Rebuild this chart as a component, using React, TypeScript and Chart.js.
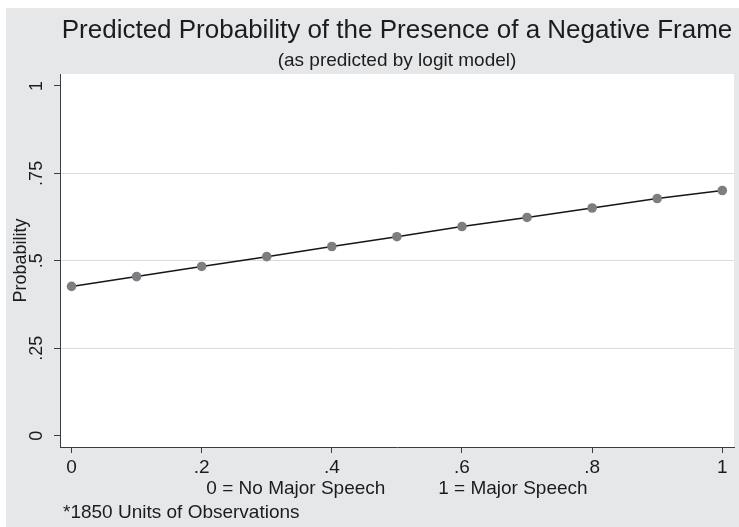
import React, { useEffect, useRef } from "react";
import { Chart, registerables } from "chart.js";

Chart.register(...registerables);

// ---- data ----
const speechValues = [0, 0.1, 0.2, 0.3, 0.4, 0.5, 0.6, 0.7, 0.8, 0.9, 1];
const predictedProbability = [0.427, 0.455, 0.484, 0.512, 0.541, 0.569, 0.598, 0.624, 0.651, 0.678, 0.701];
const xTickValues = [0, 0.2, 0.4, 0.6, 0.8, 1];
const xTickLabels = ["0", ".2", ".4", ".6", ".8", "1"];
const yTickValues = [0, 0.25, 0.5, 0.75, 1];
const yTickLabels = ["0", ".25", ".5", ".75", "1"];
const yGridValues = [0.25, 0.5, 0.75];
const titleText = "Predicted Probability of the Presence of a Negative Frame";
const subtitleText = "(as predicted by logit model)";
const yAxisTitle = "Probability";
const xAxisTitle = "0 = No Major Speech          1 = Major Speech";
const noteText = "*1850 Units of Observations";

const FONT = "'Liberation Sans', Arial, Helvetica, sans-serif";
const TEXT = "#1c1c1c";
const AXIS = "#3c3c3c";
const BG = "#e6e7e9";

const framePlugin = {
  id: "frame",
  beforeDraw(chart: any) {
    const { ctx, width, height, chartArea } = chart;
    ctx.save();
    ctx.fillStyle = "#ffffff";
    ctx.fillRect(0, 0, width, height);
    ctx.fillStyle = BG;
    ctx.fillRect(6, 8, width - 6, height - 8);
    ctx.fillStyle = "#ffffff";
    ctx.fillRect(chartArea.left, chartArea.top, chartArea.right - chartArea.left, chartArea.bottom - chartArea.top);
    ctx.restore();
  },
  afterDraw(chart: any) {
    const { ctx, chartArea } = chart;
    const cx = (chartArea.left + chartArea.right) / 2;
    ctx.save();
    ctx.fillStyle = TEXT;
    ctx.textAlign = "center";
    ctx.textBaseline = "middle";
    ctx.font = `26px ${FONT}`;
    ctx.fillText(titleText, cx, 31);
    ctx.font = `19px ${FONT}`;
    ctx.fillText(subtitleText, cx, 61);
    ctx.textAlign = "left";
    ctx.fillText(noteText, 63, 513);
    ctx.restore();
  },
};

export default function App() {
  const ref = useRef<HTMLCanvasElement>(null);
  useEffect(() => {
    if (!ref.current) return;
    const chart = new Chart(ref.current, {
      type: "line",
      data: {
        datasets: [
          {
            data: speechValues.map((x, i) => ({ x, y: predictedProbability[i] })),
            borderColor: "#161616",
            borderWidth: 1.5,
            pointRadius: 4.8,
            pointBackgroundColor: "#7d7e82",
            pointBorderWidth: 0,
            tension: 0,
          },
        ],
      },
      options: {
        animation: false,
        responsive: false,
        devicePixelRatio: 1,
        layout: { padding: { top: 74, left: 0, right: 5, bottom: 0 } },
        plugins: { legend: { display: false }, tooltip: { enabled: false } },
        scales: {
          x: {
            type: "linear",
            min: -0.0177,
            max: 1.018,
            afterBuildTicks: (s: any) => {
              s.ticks = xTickValues.map((v) => ({ value: v }));
            },
            afterFit: (s: any) => {
              s.height = 80;
            },
            ticks: {
              color: TEXT,
              font: { family: FONT, size: 19 },
              padding: 3,
              maxRotation: 0,
              callback: (v: any) => xTickLabels[xTickValues.indexOf(v)],
            },
            grid: { drawOnChartArea: false, drawTicks: true, tickLength: 6, tickColor: AXIS },
            border: { display: true, color: AXIS, width: 1 },
            title: {
              display: true,
              text: xAxisTitle,
              color: TEXT,
              font: { family: FONT, size: 19 },
              padding: { top: 0, bottom: 27 },
            },
          },
          y: {
            type: "linear",
            min: -0.032,
            max: 1.034,
            afterBuildTicks: (s: any) => {
              s.ticks = yTickValues.map((v) => ({ value: v }));
            },
            afterFit: (s: any) => {
              s.width = 60;
            },
            ticks: {
              color: TEXT,
              font: { family: FONT, size: 18 },
              padding: 4,
              minRotation: 90,
              maxRotation: 90,
              crossAlign: "center",
              callback: (v: any) => yTickLabels[yTickValues.indexOf(v)],
            },
            grid: {
              drawTicks: true,
              tickLength: 6,
              tickColor: AXIS,
              color: (c: any) => (c.tick && yGridValues.includes(c.tick.value) ? "#dcdcdc" : "rgba(0,0,0,0)"),
              lineWidth: 1,
            },
            border: { display: true, color: AXIS, width: 1 },
            title: {
              display: true,
              text: yAxisTitle,
              color: TEXT,
              font: { family: FONT, size: 18 },
              padding: { top: 10, bottom: 0 },
            },
          },
        },
      },
      plugins: [framePlugin],
    });
    return () => chart.destroy();
  }, []);
  return (
    <div style={{ position: "absolute", left: 0, top: 0, width: 739, height: 527 }}>
      <canvas ref={ref} width={739} height={527} style={{ width: 739, height: 527 }} />
    </div>
  );
}
